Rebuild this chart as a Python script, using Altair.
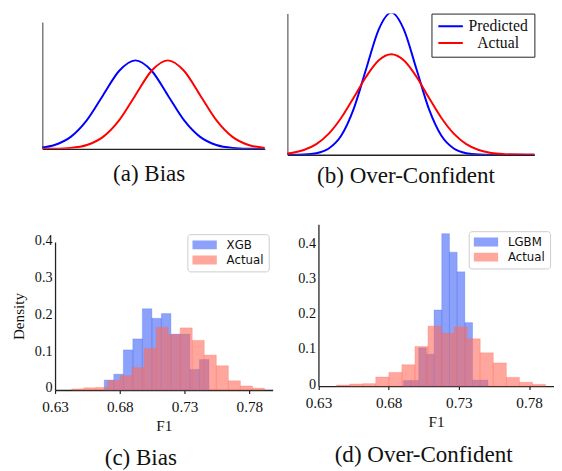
import altair as alt
import pandas as pd

# ---------------- (a) Bias : curve heights ----------------
a_x = [-3.0, -2.5, -2.0, -1.5, -1.0, -0.5, 0.0, 0.5, 1.0, 1.5, 2.0, 2.5, 3.0, 3.5, 4.0]
a_pred = [0.0111, 0.0439, 0.1353, 0.3247, 0.6065, 0.8825, 1.0, 0.8825, 0.6065,
          0.3247, 0.1353, 0.0439, 0.0111, 0.0022, 0.0003]
a_act = [0.0003, 0.0022, 0.0111, 0.0439, 0.1353, 0.3247, 0.6065, 0.8825, 1.0,
         0.8825, 0.6065, 0.3247, 0.1353, 0.0439, 0.0111]

# ---------------- (b) Over-Confident ----------------
b_x = [-4.5, -4.0, -3.5, -3.0, -2.5, -2.0, -1.5, -1.0, -0.5, 0.0, 0.5, 1.0,
       1.5, 2.0, 2.5, 3.0, 3.5, 4.0, 4.5, 5.0, 5.5, 6.0]
b_pred = [0.0, 0.0003, 0.0022, 0.0111, 0.0439, 0.1353, 0.3247, 0.6065, 0.8825,
          1.0, 0.8825, 0.6065, 0.3247, 0.1353, 0.0439, 0.0111, 0.0022, 0.0003,
          0.0, 0.0, 0.0, 0.0]
b_act = [0.0045, 0.0129, 0.0331, 0.0745, 0.1482, 0.2601, 0.4029, 0.5507, 0.6642,
         0.7071, 0.6642, 0.5507, 0.4029, 0.2601, 0.1482, 0.0745, 0.0331, 0.0129,
         0.0045, 0.0014, 0.0004, 0.0001]

curve_names = ["Predicted", "Actual"]
curve_colors = ["#0000ff", "#ff0000"]

# ---------------- histograms ----------------
actual_start, actual_width = 0.6429, 0.0093
actual_vals = [0.003, 0.006, 0.007, 0.026, 0.039, 0.061, 0.113, 0.171, 0.151,
               0.169, 0.135, 0.095, 0.066, 0.025, 0.011, 0.005]

xgb_start, xgb_width = 0.668, 0.00735
xgb_vals = [0.027, 0.043, 0.109, 0.139, 0.221, 0.195, 0.208, 0.152, 0.152, 0.056, 0.083]

lgbm_start, lgbm_width = 0.6904, 0.00548
lgbm_vals = [0.016, 0.016, 0.109, 0.091, 0.217, 0.435, 0.382, 0.326, 0.181, 0.017, 0.017]

f1_ticks = [0.63, 0.68, 0.73, 0.78]
dens_ticks = [0.0, 0.1, 0.2, 0.3, 0.4]

BLUE = "#3f62f5"
RED = "#ff6a5c"
SERIF = "Liberation Serif"
SANS = "DejaVu Sans"


def curve_df(xs, pred, act):
    rows = []
    for name, ys in zip(curve_names, [pred, act]):
        for x, y in zip(xs, ys):
            rows.append({"x": x, "y": y, "s": name})
    return pd.DataFrame(rows)


def hist_df(model, start, width, vals):
    rows = []
    for name, s0, w, vs in [(model, start, width, vals),
                            ("Actual", actual_start, actual_width, actual_vals)]:
        for i, v in enumerate(vs):
            rows.append({"x0": s0 + i * w, "x1": s0 + (i + 1) * w, "y": v,
                         "base": 0.0, "s": name})
    return pd.DataFrame(rows)


def bare_axis(color):
    return alt.Axis(labels=False, ticks=False, grid=False, domainColor=color,
                    domainWidth=1.3)


def curve_panel(df, xdom, ydom, yrange, w, h, caption, dx, off, legend):
    color = alt.Color("s:N", title=None,
                      scale=alt.Scale(domain=curve_names, range=curve_colors),
                      legend=legend)
    yscale = alt.Scale(domain=ydom, range=yrange, nice=False) if yrange else \
        alt.Scale(domain=ydom, nice=False)
    return alt.Chart(df).mark_line(strokeWidth=2, interpolate="monotone", clip=True).encode(
        x=alt.X("x:Q", title=None, scale=alt.Scale(domain=xdom, nice=False, zero=False),
                axis=bare_axis("#222")),
        y=alt.Y("y:Q", title=None, scale=yscale, axis=bare_axis("#666")),
        color=color,
        order=alt.Order("x:Q"),
    ).properties(width=w, height=h,
                 title=alt.TitleParams(caption, orient="bottom", anchor="middle",
                                       frame="group", dx=dx, offset=off))


legend_b = alt.Legend(orient="none", legendX=147, legendY=0, symbolType="stroke",
                      symbolSize=625, symbolStrokeWidth=2, labelFont=SERIF,
                      labelFontSize=16, labelColor="#111", labelAlign="center",
                      labelOffset=35, clipHeight=14, rowPadding=1, padding=6,
                      strokeColor="#222", fillColor="white", cornerRadius=0)

panel_a = curve_panel(curve_df(a_x, a_pred, a_act), [-2.879, 4.0], [0, 1.432],
                      [138, 8.7], 227, 138, "(a) Bias", -4.5, 14, None)
panel_b = curve_panel(curve_df(b_x, b_pred, b_act), [-4.157, 5.725], [0, 0.993],
                      None, 252, 144, "(b) Over-Confident", -5, 10, legend_b)

RECT = "M-1,-0.36H1V0.36H-1Z"


def hist_panel(df, model, xdom, xrange_, ydom, yrange, w, h, caption, dx,
               lx, ly, ytitle, yoffset):
    legend = alt.Legend(orient="none", legendX=lx, legendY=ly, symbolType=RECT,
                        symbolSize=625, symbolOpacity=0.6, symbolStrokeWidth=0,
                        labelFont=SANS, labelFontSize=12, labelColor="#111",
                        labelOffset=10, clipHeight=12, rowPadding=3.4, padding=5,
                        strokeColor="#cccccc", fillColor="white", cornerRadius=3)
    xscale = alt.Scale(domain=xdom, range=xrange_, nice=False, zero=False, padding=0)
    yscale = alt.Scale(domain=ydom, range=yrange, nice=False, padding=0)
    yaxis_kw = dict(values=dens_ticks, format="~g", ticks=False, labelPadding=3,
                    labelFontSize=14.5, labelOffset=-2, grid=False, domainColor="#222",
                    domainWidth=1.3, titlePadding=8, offset=yoffset, labelFlush=False)
    cscale = alt.Scale(domain=[model, "Actual"], range=[BLUE, RED])
    return alt.Chart(df).mark_bar(fillOpacity=0.6, strokeOpacity=0.35, strokeWidth=0.8,
                                  orient="vertical").encode(
        x=alt.X("x0:Q", title="F1", scale=xscale,
                axis=alt.Axis(values=f1_ticks, format=".2f", tickSize=3.5, tickColor="#222",
                              tickWidth=1.2, labelPadding=6.5, titlePadding=4, grid=False,
                              labelFlush=False, domainColor="#222", domainWidth=1.3)),
        x2="x1:Q",
        y=alt.Y("y:Q", title=ytitle, scale=yscale, stack=False, axis=alt.Axis(**yaxis_kw)),
        y2="base:Q",
        color=alt.Color("s:N", title=None, scale=cscale, legend=legend),
        stroke=alt.Stroke("s:N", scale=cscale, legend=None),
    ).properties(width=w, height=h,
                 title=alt.TitleParams(caption, orient="bottom", anchor="middle",
                                       frame="group", dx=dx, offset=13))


panel_c = hist_panel(hist_df("XGB", xgb_start, xgb_width, xgb_vals), "XGB",
                     [0.63, 0.798], [13, 235], [0, 0.4027], [169, 18], 235, 169,
                     "(c) Bias", -17, 148, 10, "Density", -13)
panel_d = hist_panel(hist_df("LGBM", lgbm_start, lgbm_width, lgbm_vals), "LGBM",
                     [0.63, 0.7975], [31.7, 271.7], [0, 0.4615], [165, 0], 271.7, 165,
                     "(d) Over-Confident", 3.15, 185, 7, None, -31.7)

chart = alt.concat(panel_a, panel_b, panel_c, panel_d, columns=2,
                   spacing={"row": 71, "column": 15}, bounds="flush").resolve_scale(
    color="independent", stroke="independent").resolve_legend(
    color="independent", stroke="independent").properties(
    padding={"left": 3, "top": 0, "right": 0, "bottom": 0}
).configure_view(strokeWidth=0).configure_axis(
    labelFont=SERIF, labelFontSize=15.5, titleFont=SERIF, titleFontSize=15.5,
    titleFontWeight="normal", labelColor="#111", titleColor="#111"
).configure_title(font=SERIF, fontSize=23.5, fontWeight="normal", color="#111")

chart.save("out.html", embed_options={"renderer": "svg", "actions": False})
